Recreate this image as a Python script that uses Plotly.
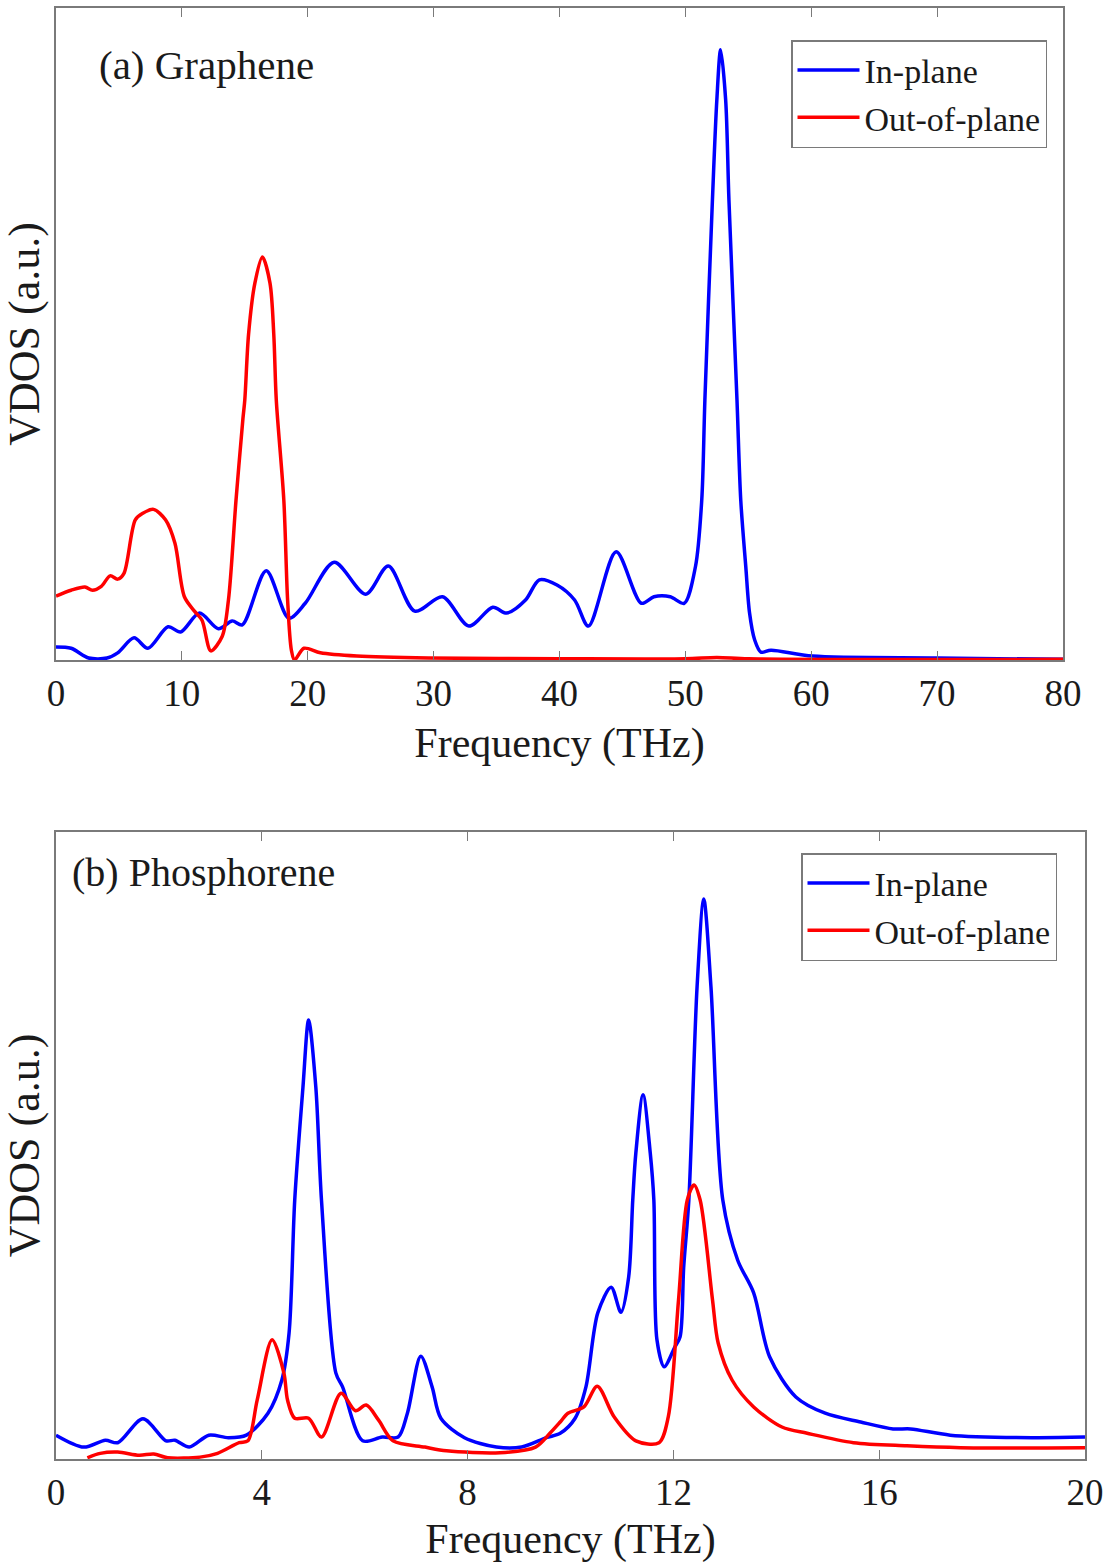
import plotly.graph_objects as go

# ---------------- (a) Graphene ----------------
g_in_freq = [0, 1.2, 2.6, 4.05, 4.9, 6.2, 7.3, 8.9, 9.9, 11.4, 12.9, 14.0, 14.8, 16.7, 18.5,
             19.8, 22.1, 24.6, 26.4, 28.5, 30.7, 32.8, 34.7, 35.8, 37.3, 38.4, 39.8, 41.2,
             42.3, 44.5, 46.5, 47.5, 48.8, 49.9, 50.8, 51.3, 51.55, 52.15, 52.5, 52.8, 53.2,
             53.46, 54.1, 54.4, 54.8, 55.1, 55.5, 56.0, 56.8, 60.1, 70.0, 80.0]
g_in_vdos = [0.020, 0.018, 0.003, 0.003, 0.011, 0.034, 0.018, 0.051, 0.043, 0.072, 0.048,
             0.060, 0.054, 0.137, 0.064, 0.087, 0.150, 0.101, 0.144, 0.075, 0.097, 0.052,
             0.081, 0.072, 0.092, 0.123, 0.115, 0.092, 0.052, 0.166, 0.087, 0.097, 0.097,
             0.087, 0.143, 0.245, 0.399, 0.706, 0.859, 0.936, 0.859, 0.706, 0.399, 0.245,
             0.143, 0.072, 0.031, 0.012, 0.015, 0.006, 0.003, 0.001]

g_out_freq = [0, 1.2, 2.3, 2.9, 3.6, 4.3, 4.9, 5.4, 6.3, 6.9, 7.75, 8.7, 9.45, 10.2, 11.0,
              11.6, 12.3, 13.2, 13.7, 14.3, 14.85, 15.0, 15.3, 15.8, 16.4, 17.0, 17.3, 17.5,
              18.1, 18.4, 18.7, 18.95, 19.7, 21.0, 23.9, 29.6, 40.0, 50.0, 52.5, 55.0, 80.0]
g_out_vdos = [0.098, 0.107, 0.112, 0.107, 0.113, 0.129, 0.124, 0.133, 0.215, 0.225, 0.231,
              0.215, 0.179, 0.097, 0.075, 0.061, 0.014, 0.036, 0.092, 0.245, 0.370, 0.399,
              0.500, 0.578, 0.618, 0.578, 0.500, 0.399, 0.245, 0.092, 0.015, 0.0, 0.018,
              0.011, 0.006, 0.003, 0.002, 0.002, 0.004, 0.002, 0.001]

# ---------------- (b) Phosphorene ----------------
p_in_freq = [0, 0.54, 0.96, 1.2, 1.69, 2.14, 2.31, 2.59, 2.97, 3.35, 3.7, 4.12, 4.39, 4.53,
             4.64, 4.80, 4.91, 5.05, 5.16, 5.44, 5.57, 5.96, 6.34, 6.65, 6.83, 7.09, 7.31,
             7.48, 7.94, 8.56, 9.05, 9.53, 9.8, 10.09, 10.3, 10.53, 10.79, 10.98, 11.13,
             11.21, 11.27, 11.41, 11.55, 11.62, 11.68, 11.82, 12.03, 12.13, 12.2, 12.3,
             12.46, 12.59, 12.73, 12.96, 13.25, 13.56, 13.87, 14.38, 14.95, 15.64, 16.27,
             16.61, 17.38, 18.97, 20.0]
p_in_vdos = [0.038, 0.019, 0.030, 0.026, 0.064, 0.029, 0.030, 0.019, 0.038, 0.034, 0.038,
             0.073, 0.126, 0.201, 0.413, 0.593, 0.700, 0.593, 0.413, 0.137, 0.115, 0.029,
             0.035, 0.035, 0.073, 0.164, 0.115, 0.065, 0.034, 0.019, 0.019, 0.034, 0.041,
             0.065, 0.115, 0.233, 0.274, 0.234, 0.290, 0.413, 0.488, 0.581, 0.488, 0.413,
             0.190, 0.147, 0.179, 0.195, 0.306, 0.413, 0.753, 0.893, 0.753, 0.413, 0.317,
             0.265, 0.163, 0.099, 0.073, 0.059, 0.048, 0.048, 0.038, 0.034, 0.035]

p_out_freq = [0.61, 0.86, 1.2, 1.62, 1.9, 2.17, 2.8, 3.14, 3.56, 3.73, 3.91, 4.2, 4.43, 4.5,
              4.64, 4.91, 5.16, 5.54, 5.82, 6.03, 6.27, 6.55, 7.17, 7.59, 8.63, 9.32, 9.6,
              9.8, 9.95, 10.26, 10.52, 10.85, 11.27, 11.72, 11.9, 12.1, 12.27, 12.4, 12.52,
              12.76, 12.87, 13.14, 13.56, 14.11, 14.6, 15.5, 16.54, 17.58, 20.0]
p_out_vdos = [0.002, 0.009, 0.011, 0.006, 0.008, 0.002, 0.003, 0.009, 0.026, 0.029, 0.094,
              0.190, 0.137, 0.094, 0.065, 0.065, 0.035, 0.105, 0.077, 0.086, 0.062, 0.029,
              0.019, 0.013, 0.010, 0.019, 0.041, 0.059, 0.073, 0.083, 0.116, 0.067, 0.029,
              0.026, 0.067, 0.254, 0.413, 0.437, 0.413, 0.254, 0.185, 0.126, 0.083, 0.051,
              0.041, 0.026, 0.021, 0.018, 0.018]

top_ticks = [0, 10, 20, 30, 40, 50, 60, 70, 80]
bot_ticks = [0, 4, 8, 12, 16, 20]

FONT = "Liberation Serif, Times New Roman, serif"
BLUE = "#0000FF"
RED = "#FF0000"
AXC = "#7a7a7a"
TXT = "#1a1a1a"
LW = 3.5
SM = 0.85

fig = go.Figure()

fig.add_trace(go.Scatter(x=g_in_freq, y=g_in_vdos, mode="lines", name="In-plane",
                         line=dict(color=BLUE, width=LW, shape="spline", smoothing=SM),
                         xaxis="x", yaxis="y", legend="legend"))
fig.add_trace(go.Scatter(x=g_out_freq, y=g_out_vdos, mode="lines", name="Out-of-plane",
                         line=dict(color=RED, width=LW, shape="spline", smoothing=SM),
                         xaxis="x", yaxis="y", legend="legend"))
fig.add_trace(go.Scatter(x=p_in_freq, y=p_in_vdos, mode="lines", name="In-plane",
                         line=dict(color=BLUE, width=LW, shape="spline", smoothing=SM),
                         xaxis="x2", yaxis="y2", legend="legend2"))
fig.add_trace(go.Scatter(x=p_out_freq, y=p_out_vdos, mode="lines", name="Out-of-plane",
                         line=dict(color=RED, width=LW, shape="spline", smoothing=SM),
                         xaxis="x2", yaxis="y2", legend="legend2"))

W, H = 1110, 1563

def px(x):
    return x / W

def py(y):
    return 1 - y / H

xcommon = dict(showline=True, linecolor=AXC, linewidth=1.5, mirror="ticks",
               ticks="inside", ticklen=9, tickwidth=1.2, tickcolor=AXC,
               showgrid=False, zeroline=False, automargin=False,
               tickfont=dict(family=FONT, size=37, color=TXT),
               title_font=dict(family=FONT, size=42, color=TXT))
ycommon = dict(showline=True, linecolor=AXC, linewidth=1.5, mirror=True,
               ticks="", showticklabels=False, showgrid=False, zeroline=False,
               automargin=False,
               title_font=dict(family=FONT, size=44, color=TXT))

legcommon = dict(font=dict(family=FONT, size=34, color=TXT), bgcolor="white",
                 bordercolor=AXC, borderwidth=1.5, xanchor="right", yanchor="top",
                 itemwidth=62, tracegroupgap=0)

fig.update_layout(
    width=W, height=H,
    margin=dict(l=0, r=0, t=0, b=0, autoexpand=False),
    paper_bgcolor="white", plot_bgcolor="white",
    xaxis=dict(domain=[px(56), px(1063)], range=[0, 80], tickvals=top_ticks,
               anchor="y", title=dict(text="Frequency (THz)", standoff=14), **xcommon),
    yaxis=dict(domain=[py(660), py(8)], range=[0, 1.0], anchor="x",
               title=dict(text="VDOS (a.u.)", standoff=2), **ycommon),
    xaxis2=dict(domain=[px(56), px(1085)], range=[0, 20], tickvals=bot_ticks,
                anchor="y2", title=dict(text="Frequency (THz)", standoff=11), **xcommon),
    yaxis2=dict(domain=[py(1459), py(832)], range=[0, 1.0], anchor="x2",
                title=dict(text="VDOS (a.u.)", standoff=2), **ycommon),
    legend=dict(x=px(1047), y=py(40), **legcommon),
    legend2=dict(x=px(1057), y=py(853), **legcommon),
    showlegend=True,
    annotations=[
        dict(text="(a) Graphene", x=px(97), y=py(65), xref="paper", yref="paper",
             xanchor="left", yanchor="middle", showarrow=False,
             font=dict(family=FONT, size=41, color=TXT)),
        dict(text="(b) Phosphorene", x=px(70), y=py(873), xref="paper", yref="paper",
             xanchor="left", yanchor="middle", showarrow=False,
             font=dict(family=FONT, size=40, color=TXT)),
    ],
)

fig.write_html("out.html")
